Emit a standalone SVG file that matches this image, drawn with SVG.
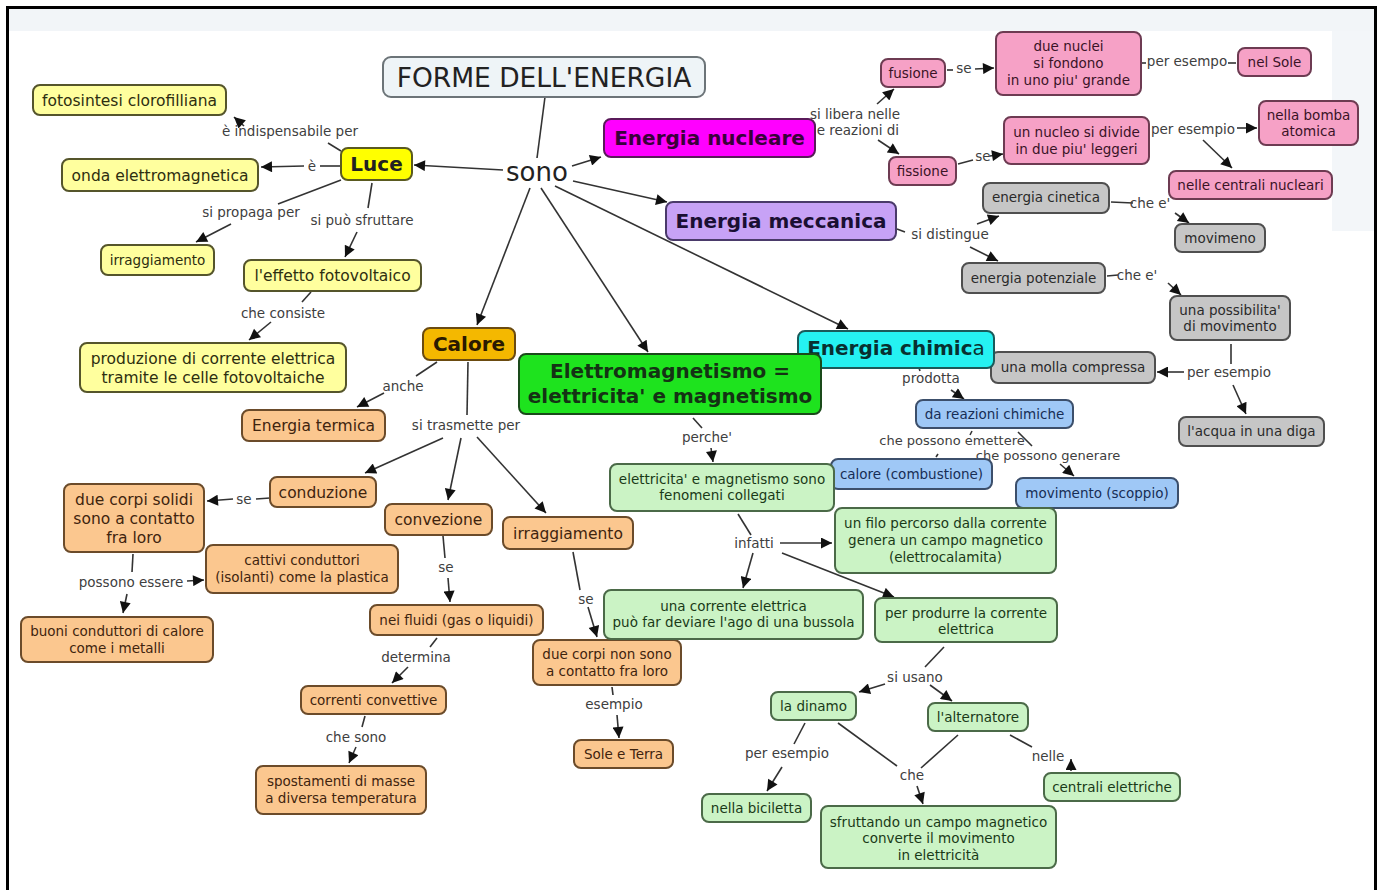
<svg xmlns="http://www.w3.org/2000/svg" width="1384" height="890" viewBox="0 0 1384 890">
<defs>
<marker id="ah" viewBox="0 0 10 10" refX="10" refY="5" markerWidth="13" markerHeight="11" markerUnits="userSpaceOnUse" orient="auto"><path d="M0,0 L10,5 L0,10 z" fill="#111"/></marker>
<style>
text{font-family:"DejaVu Sans",Verdana,sans-serif;text-anchor:middle}
.n rect{stroke-width:2}
.y rect{fill:#ffff9e;stroke:#55552b}
.y text{fill:#2e2e10}
.o rect{fill:#fbc78f;stroke:#6b4b2a}
.o text{fill:#3f240e}
.p rect{fill:#f6a1c6;stroke:#6d3b52}
.p text{fill:#3a1326}
.g rect{fill:#c6c6c6;stroke:#4f4f4f}
.g text{fill:#2a2a2a}
.b rect{fill:#9fc8f6;stroke:#3c4f6b}
.b text{fill:#172e55}
.gr rect{fill:#cbf3c5;stroke:#4b6a48}
.gr text{fill:#1a3a18}
.s{font-size:13.5px}
.m{font-size:15.5px}
.big{font-size:20px;font-weight:bold}
.lbl text{font-size:13.5px;fill:#404040}
.c path{fill:none;stroke:#333;stroke-width:1.6}
.c .a{marker-end:url(#ah)}
</style>
</defs>
<rect x="0" y="0" width="1384" height="890" fill="#fff"/>
<rect x="9" y="9" width="1366" height="22" fill="#f2f5f8"/>
<rect x="1332" y="31" width="43" height="200" fill="#f3f6f9"/>

<g id="connectors" class="c">
<path d="M545,97 L537,158"/>
<path class="a" d="M503,170 L414,165"/>
<path class="a" d="M572,166 L601,157"/>
<path class="a" d="M573,181 L667,202"/>
<path class="a" d="M555,186 L848,329"/>
<path class="a" d="M541,188 L648,352"/>
<path class="a" d="M530,188 L477,325"/>
<path d="M341,151 L328,143"/>
<path class="a" d="M244,126 L234,117"/>
<path d="M341,166 L320,166"/>
<path class="a" d="M304,166 L261,167"/>
<path d="M341,180 L278,204"/>
<path class="a" d="M231,224 L196,242"/>
<path d="M372,183 L368,208"/>
<path class="a" d="M357,232 L345,257"/>
<path d="M311,292 L302,302"/>
<path class="a" d="M271,322 L249,340"/>
<path d="M437,362 L416,376"/>
<path class="a" d="M384,393 L357,407"/>
<path d="M468,362 L467,415"/>
<path class="a" d="M443,438 L365,473"/>
<path class="a" d="M461,438 L448,500"/>
<path class="a" d="M477,437 L546,513"/>
<path d="M270,498 L256,499"/>
<path class="a" d="M233,499 L207,501"/>
<path d="M133,554 L132,572"/>
<path class="a" d="M187,581 L204,580"/>
<path class="a" d="M127,594 L123,613"/>
<path d="M443,536 L445,558"/>
<path class="a" d="M448,578 L450,602"/>
<path d="M437,638 L430,647"/>
<path class="a" d="M408,667 L392,683"/>
<path d="M365,716 L362,727"/>
<path class="a" d="M356,747 L349,763"/>
<path d="M573,552 L580,590"/>
<path class="a" d="M588,607 L597,637"/>
<path d="M612,687 L613,695"/>
<path class="a" d="M617,715 L619,738"/>
<path d="M693,418 L702,428"/>
<path class="a" d="M711,448 L713,462"/>
<path d="M738,514 L751,535"/>
<path class="a" d="M780,543 L832,543"/>
<path class="a" d="M753,553 L743,588"/>
<path class="a" d="M782,553 L894,597"/>
<path d="M944,647 L925,667"/>
<path class="a" d="M885,684 L859,692"/>
<path class="a" d="M930,685 L952,701"/>
<path d="M805,723 L794,744"/>
<path class="a" d="M782,767 L767,791"/>
<path d="M838,723 L897,766"/>
<path d="M958,735 L921,768"/>
<path class="a" d="M917,786 L923,804"/>
<path d="M1010,735 L1032,747"/>
<path class="a" d="M1071,771 L1071,759"/>
<path class="a" d="M877,104 L894,89"/>
<path class="a" d="M878,140 L899,154"/>
<path d="M947,70 L953,70"/>
<path class="a" d="M975,69 L994,68"/>
<path d="M1142,63 L1146,63"/>
<path d="M1228,63 L1236,63"/>
<path d="M958,164 L973,160"/>
<path class="a" d="M990,156 L1003,154"/>
<path class="a" d="M1237,128 L1257,128"/>
<path class="a" d="M1203,140 L1232,168"/>
<path d="M897,229 L905,232"/>
<path class="a" d="M977,224 L999,216"/>
<path class="a" d="M970,247 L998,261"/>
<path d="M1111,202 L1133,203"/>
<path class="a" d="M1175,213 L1189,223"/>
<path d="M1107,276 L1118,275"/>
<path class="a" d="M1168,283 L1181,295"/>
<path d="M1231,344 L1231,364"/>
<path class="a" d="M1184,372 L1157,372"/>
<path class="a" d="M1233,385 L1246,414"/>
<path d="M919,368 L920,371"/>
<path class="a" d="M951,390 L964,399"/>
<path d="M972,431 L970,435"/>
<path d="M938,454 L936,457"/>
<path d="M1018,432 L1032,446"/>
<path class="a" d="M1060,464 L1074,476"/>
</g>

<g id="labels" class="lbl">
<text x="290" y="136">è indispensabile per</text>
<text x="312" y="171">è</text>
<text x="251" y="217">si propaga per</text>
<text x="362" y="225">si può sfruttare</text>
<text x="283" y="318">che consiste</text>
<text x="403" y="391">anche</text>
<text x="466" y="430">si trasmette per</text>
<text x="244" y="504">se</text>
<text x="131" y="587">possono essere</text>
<text x="446" y="572">se</text>
<text x="416" y="662">determina</text>
<text x="356" y="742">che sono</text>
<text x="586" y="604">se</text>
<text x="614" y="709">esempio</text>
<text x="707" y="442">perche'</text>
<text x="754" y="548">infatti</text>
<text x="915" y="682">si usano</text>
<text x="787" y="758">per esempio</text>
<text x="912" y="780">che</text>
<text x="1048" y="761">nelle</text>
<text x="855" y="119">si libera nelle</text>
<text x="856" y="135">le reazioni di</text>
<text x="964" y="73">se</text>
<text x="983" y="161">se</text>
<text x="1187" y="66">per esempo</text>
<text x="1193" y="134">per esempio</text>
<text x="950" y="239">si distingue</text>
<text x="1150" y="208">che e'</text>
<text x="1137" y="280">che e'</text>
<text x="1229" y="377">per esempio</text>
<text x="931" y="383">prodotta</text>
<text x="952" y="445" style="font-size:13px">che possono emettere</text>
<text x="1048" y="460" style="font-size:13px">che possono generare</text>
</g>

<g id="title"><rect x="383" y="57" width="322" height="40" rx="8" fill="#eef4f7" stroke="#6c7478" stroke-width="2"/><text x="544" y="87" style="font-size:26.5px;fill:#222">FORME DELL'ENERGIA</text></g>
<g id="sono"><text x="537" y="181" style="font-size:26px;fill:#222">sono</text></g>

<g id="fotosintesi" class="n y"><rect x="33" y="85" width="193" height="30" rx="7"/><text class="m" x="129.5" y="105.5">fotosintesi clorofilliana</text></g>
<g id="onda" class="n y"><rect x="62" y="159" width="196" height="32" rx="7"/><text class="m" x="160" y="180.5">onda elettromagnetica</text></g>
<g id="luce" class="n"><rect x="341" y="148" width="71" height="32" rx="7" fill="#ffff00" stroke="#5a5a20" stroke-width="2"/><text class="big" x="376.5" y="171" fill="#222">Luce</text></g>
<g id="irr1" class="n y"><rect x="101" y="245" width="113" height="30" rx="7"/><text class="s" x="157.5" y="264.5">irraggiamento</text></g>
<g id="effetto" class="n y"><rect x="244" y="260" width="177" height="31" rx="7"/><text class="m" x="332.5" y="281">l'effetto fotovoltaico</text></g>
<g id="produzione" class="n y"><rect x="80" y="343" width="266" height="49" rx="7"/><text class="m" x="213" y="364">produzione di corrente elettrica</text><text class="m" x="213" y="383">tramite le celle fotovoltaiche</text></g>

<g id="calore" class="n"><rect x="423" y="328" width="92" height="32" rx="7" fill="#f4b800" stroke="#6b4b10" stroke-width="2"/><text class="big" x="469" y="351" fill="#2a1a00">Calore</text></g>
<g id="termica" class="n o"><rect x="242" y="410" width="143" height="31" rx="7"/><text class="m" x="313.5" y="431">Energia termica</text></g>
<g id="conduzione" class="n o"><rect x="270" y="477" width="106" height="30" rx="7"/><text class="m" x="323" y="497.5">conduzione</text></g>
<g id="solidi" class="n o"><rect x="64" y="484" width="140" height="68" rx="7"/><text class="m" x="134" y="505">due corpi solidi</text><text class="m" x="134" y="524">sono a contatto</text><text class="m" x="134" y="543">fra loro</text></g>
<g id="cattivi" class="n o"><rect x="206" y="545" width="192" height="48" rx="7"/><text class="s" x="302" y="565">cattivi conduttori</text><text class="s" x="302" y="582">(isolanti) come la plastica</text></g>
<g id="buoni" class="n o"><rect x="21" y="617" width="192" height="45" rx="7"/><text class="s" x="117" y="636">buoni conduttori di calore</text><text class="s" x="117" y="653">come i metalli</text></g>
<g id="convezione" class="n o"><rect x="385" y="504" width="107" height="31" rx="7"/><text class="m" x="438.5" y="525">convezione</text></g>
<g id="irr2" class="n o"><rect x="503" y="517" width="130" height="32" rx="7"/><text class="m" x="568" y="538.5">irraggiamento</text></g>
<g id="fluidi" class="n o"><rect x="370" y="605" width="173" height="30" rx="7"/><text class="s" x="456.5" y="624.5">nei fluidi (gas o liquidi)</text></g>
<g id="convettive" class="n o"><rect x="301" y="686" width="145" height="28" rx="7"/><text class="s" x="373.5" y="704.5">correnti convettive</text></g>
<g id="spostamenti" class="n o"><rect x="256" y="766" width="170" height="48" rx="7"/><text class="s" x="341" y="786">spostamenti di masse</text><text class="s" x="341" y="803">a diversa temperatura</text></g>
<g id="noncontatto" class="n o"><rect x="533" y="640" width="148" height="45" rx="7"/><text class="s" x="607" y="659">due corpi non sono</text><text class="s" x="607" y="676">a contatto fra loro</text></g>
<g id="soleterra" class="n o"><rect x="574" y="740" width="99" height="28" rx="7"/><text class="s" x="623.5" y="759">Sole e Terra</text></g>

<g id="nucleare" class="n"><rect x="604" y="119" width="211" height="38" rx="7" fill="#ff00ff" stroke="#5a1a5a" stroke-width="2"/><text class="big" x="709.5" y="145" fill="#3a003a">Energia nucleare</text></g>
<g id="fusione" class="n p"><rect x="881" y="59" width="64" height="28" rx="7"/><text class="s" x="913" y="77.5">fusione</text></g>
<g id="fissione" class="n p"><rect x="889" y="157" width="67" height="28" rx="7"/><text class="s" x="922.5" y="175.5">fissione</text></g>
<g id="duenuclei" class="n p"><rect x="996" y="32" width="145" height="63" rx="7"/><text class="s" x="1068.5" y="51">due nuclei</text><text class="s" x="1068.5" y="68">si fondono</text><text class="s" x="1068.5" y="85">in uno piu' grande</text></g>
<g id="nelsole" class="n p"><rect x="1238" y="48" width="73" height="28" rx="7"/><text class="s" x="1274.5" y="66.5">nel Sole</text></g>
<g id="unnucleo" class="n p"><rect x="1004" y="117" width="145" height="47" rx="7"/><text class="s" x="1076.5" y="137">un nucleo si divide</text><text class="s" x="1076.5" y="154">in due piu' leggeri</text></g>
<g id="bomba" class="n p"><rect x="1259" y="101" width="99" height="44" rx="7"/><text class="s" x="1308.5" y="120">nella bomba</text><text class="s" x="1308.5" y="136">atomica</text></g>
<g id="centralinucleari" class="n p"><rect x="1169" y="171" width="163" height="28" rx="7"/><text class="s" x="1250.5" y="189.5">nelle centrali nucleari</text></g>

<g id="meccanica" class="n"><rect x="666" y="202" width="230" height="38" rx="7" fill="#c7a2f6" stroke="#4a3a6a" stroke-width="2"/><text class="big" x="781" y="228" fill="#1a0f33">Energia meccanica</text></g>
<g id="cinetica" class="n g"><rect x="983" y="183" width="126" height="30" rx="7"/><text class="s" x="1046" y="202">energia cinetica</text></g>
<g id="movimeno" class="n g"><rect x="1175" y="224" width="90" height="28" rx="7"/><text class="s" x="1220" y="242.5">movimeno</text></g>
<g id="potenziale" class="n g"><rect x="962" y="263" width="143" height="30" rx="7"/><text class="s" x="1033.5" y="282.5">energia potenziale</text></g>
<g id="possibilita" class="n g"><rect x="1170" y="296" width="120" height="44" rx="7"/><text class="s" x="1230" y="315">una possibilita'</text><text class="s" x="1230" y="331">di movimento</text></g>
<g id="molla" class="n g"><rect x="991" y="352" width="164" height="31" rx="7"/><text class="s" x="1073" y="371.5">una molla compressa</text></g>
<g id="acqua" class="n g"><rect x="1179" y="417" width="145" height="29" rx="7"/><text class="s" x="1251.5" y="436">l'acqua in una diga</text></g>

<g id="chimica" class="n"><rect x="798" y="331" width="196" height="37" rx="7" fill="#25f2f2" stroke="#1a5a5a" stroke-width="2"/><text x="896" y="355" style="font-size:20px;fill:#083030"><tspan font-weight="bold">Energia chimic</tspan>a</text></g>
<g id="reazioni" class="n b"><rect x="916" y="400" width="157" height="28" rx="7"/><text class="s" x="994.5" y="418.5">da reazioni chimiche</text></g>
<g id="combustione" class="n b"><rect x="831" y="459" width="161" height="30" rx="7"/><text class="s" x="911.5" y="478.5">calore (combustione)</text></g>
<g id="scoppio" class="n b"><rect x="1016" y="478" width="162" height="30" rx="7"/><text class="s" x="1097" y="497.5">movimento (scoppio)</text></g>

<g id="elettromagnetismo" class="n"><rect x="519" y="354" width="302" height="60" rx="7" fill="#1ee31e" stroke="#1a4a1a" stroke-width="2"/><text class="big" x="670" y="378" fill="#143214">Elettromagnetismo =</text><text class="big" x="670" y="403" fill="#143214">elettricita' e magnetismo</text></g>
<g id="collegati" class="n gr"><rect x="610" y="464" width="224" height="47" rx="7"/><text class="s" x="722" y="484">elettricita' e magnetismo sono</text><text class="s" x="722" y="500">fenomeni collegati</text></g>
<g id="filo" class="n gr"><rect x="835" y="508" width="221" height="65" rx="7"/><text class="s" x="945.5" y="528">un filo percorso dalla corrente</text><text class="s" x="945.5" y="545">genera un campo magnetico</text><text class="s" x="945.5" y="562">(elettrocalamita)</text></g>
<g id="bussola" class="n gr"><rect x="604" y="590" width="259" height="49" rx="7"/><text class="s" x="733.5" y="611">una corrente elettrica</text><text class="s" x="733.5" y="627">può far deviare l'ago di una bussola</text></g>
<g id="produrre" class="n gr"><rect x="875" y="598" width="182" height="44" rx="7"/><text class="s" x="966" y="618">per produrre la corrente</text><text class="s" x="966" y="634">elettrica</text></g>
<g id="dinamo" class="n gr"><rect x="771" y="692" width="85" height="28" rx="7"/><text class="s" x="813.5" y="710.5">la dinamo</text></g>
<g id="alternatore" class="n gr"><rect x="928" y="703" width="100" height="28" rx="7"/><text class="s" x="978" y="721.5">l'alternatore</text></g>
<g id="bicicletta" class="n gr"><rect x="702" y="794" width="109" height="28" rx="7"/><text class="s" x="756.5" y="812.5">nella biciletta</text></g>
<g id="sfruttando" class="n gr"><rect x="821" y="806" width="235" height="62" rx="7"/><text class="s" x="938.5" y="827">sfruttando un campo magnetico</text><text class="s" x="938.5" y="843">converte il movimento</text><text class="s" x="938.5" y="860">in elettricità</text></g>
<g id="centralielettriche" class="n gr"><rect x="1044" y="773" width="136" height="28" rx="7"/><text class="s" x="1112" y="791.5">centrali elettriche</text></g>

<path d="M7.5,900 L7.5,7.5 L1375.5,7.5 L1375.5,900" fill="none" stroke="#000" stroke-width="3"/>
</svg>
